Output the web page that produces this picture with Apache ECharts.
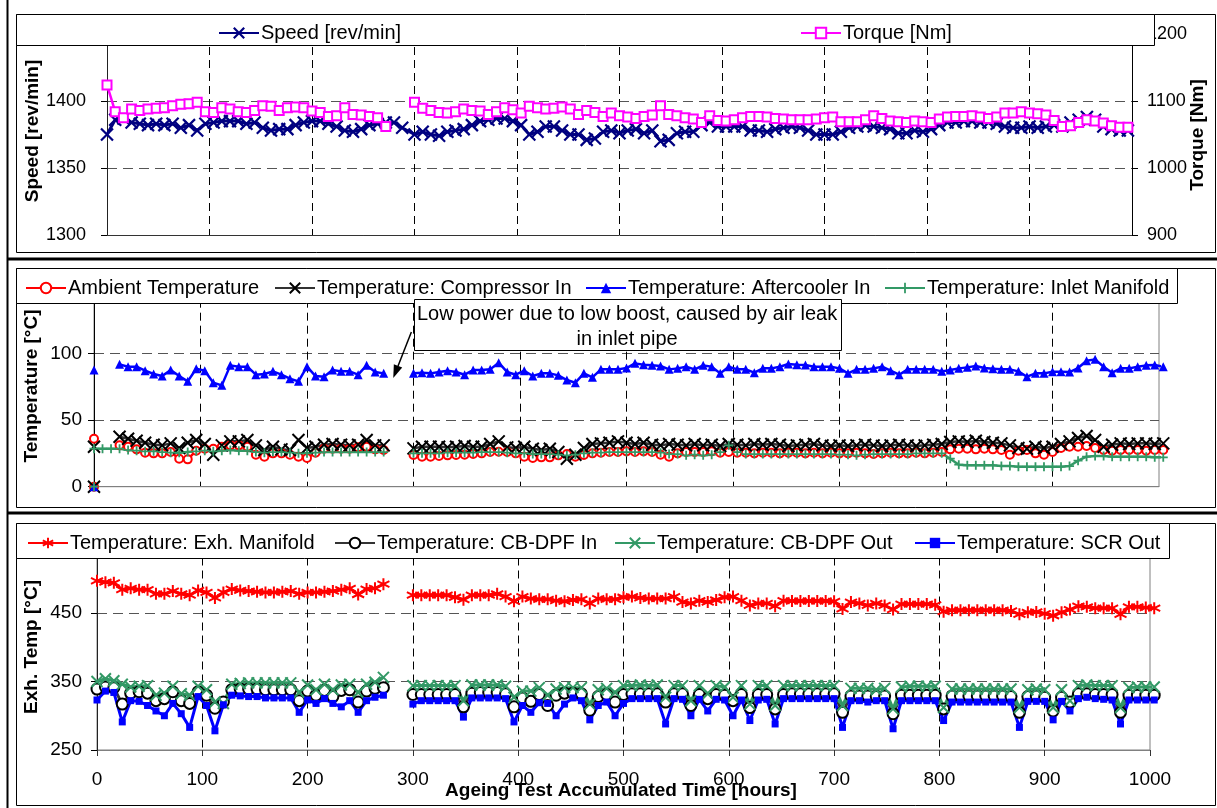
<!DOCTYPE html>
<html>
<head>
<meta charset="utf-8">
<title>Ageing test – engine operating data</title>
<script src="https://cdn.jsdelivr.net/npm/echarts/dist/echarts.min.js"></script>
<style>
  html, body { margin: 0; padding: 0; background: #ffffff; }
  #chart { width: 1217px; height: 808px; }
</style>
</head>
<body>
<div id="chart"></div>
<script>
// ---------------------------------------------------------------------------
// Logged test hours (shared by every series; rows of ~100 h)
// ---------------------------------------------------------------------------
const hours = [
  0, 8, 16, 24, 32, 40, 48, 56, 64, 72, 80, 88, 96,
  104, 112, 120, 128, 136, 144, 152, 160, 168, 176, 184, 192, 200,
  208, 216, 224, 232, 240, 248, 256, 264, 272,
  280, 288,
  300, 308, 316, 324, 332, 340, 348, 356, 364, 372, 380, 388, 396,
  404, 412, 420, 428, 436, 444, 452, 460, 468, 476, 484, 492, 500,
  508, 516, 524, 532, 540, 548, 556, 564, 572, 580, 588, 596,
  604, 612, 620, 628, 636, 644, 652, 660, 668, 676, 684, 692, 700,
  708, 716, 724, 732, 740, 748, 756, 764, 772, 780, 788, 796,
  804, 812, 820, 828, 836, 844, 852, 860, 868, 876, 884, 892, 900,
  908, 916, 924, 932, 940, 948, 956, 964, 972, 980, 988, 996, 1004
];

// Engine speed [rev/min]
const speed = [
  1375, 1386, 1387, 1384, 1383, 1382, 1383, 1382, 1383, 1380, 1382, 1378, 1383,
  1384, 1385, 1385, 1385, 1383, 1384, 1380, 1378, 1379, 1379, 1382, 1384, 1385,
  1385, 1383, 1381, 1378, 1377, 1379, 1382, 1383, 1384,
  1384, 1380,
  1375, 1377, 1375, 1374, 1377, 1378, 1379, 1382, 1385, 1386, 1387, 1387, 1385,
  1382, 1375, 1377, 1381, 1381, 1378, 1375, 1375, 1371, 1372, 1377, 1378, 1376,
  1378, 1379, 1376, 1378, 1370, 1371, 1376, 1377, 1377, 1382, 1384, 1381,
  1381, 1381, 1381, 1378, 1378, 1377, 1379, 1380, 1381, 1380, 1378, 1375, 1375,
  1375, 1377, 1380, 1381, 1382, 1381, 1380, 1379, 1376, 1376, 1378, 1377,
  1379, 1382, 1384, 1384, 1385, 1385, 1384, 1384, 1383, 1381, 1380, 1380, 1381,
  1380, 1381, 1382, 1381, 1384, 1386, 1388, 1386, 1381, 1379, 1378, 1378, null
];

// Engine torque [Nm]
const torque = [
  1124, 1084, 1075, 1088, 1086, 1088, 1089, 1090, 1093, 1095, 1096, 1098, 1084,
  1083, 1090, 1088, 1084, 1083, 1086, 1093, 1092, 1086, 1090, 1091, 1090, 1085,
  1083, 1077, 1078, 1090, 1080, 1079, 1077, 1075, 1062,
  null, null,
  1098, 1089, 1086, 1083, 1082, 1084, 1088, 1086, 1085, 1080, 1084, 1090, 1087,
  1082, 1092, 1090, 1088, 1089, 1091, 1088, 1080, 1086, 1083, 1077, 1082, 1078,
  1076, 1074, 1077, 1079, 1093, 1080, 1078, 1075, 1073, 1068, 1078, 1071,
  1070, 1072, 1075, 1077, 1077, 1076, 1074, 1073, 1072, 1072, 1072, 1073, 1075,
  1076, 1069, 1069, 1069, 1072, 1078, 1074, 1070, 1069, 1068, 1070, 1069,
  1068, 1073, 1076, 1077, 1077, 1078, 1076, 1074, 1076, 1082, 1082, 1084, 1082,
  1081, 1079, 1071, 1062, 1063, 1068, 1072, 1070, 1067, 1063, 1061, 1061, null
];

// Intake side temperatures [°C]; first logger row read zero on every channel
const startupReading = [0, 0, 0, 0];

const ambient = [
  36, null, null, 31, 30, 28, 25.5, 25, 25, 26, 21, 20.5, 27,
  28.5, 28.5, 30, 31, 31, 30, 24, 22.5, 25, 25, 24, 22.5, 21.5,
  25.5, 28.5, 28.5, 28.5, 28.5, 29.5, 30, 28, 27.5,
  null, null,
  23.75, 22.5, 22.5, 23, 23.5, 23.75, 24, 24.5, 25, 26, 26.25, 26, 25,
  22.5, 21.5, 22, 22, 23.5, 24.5, 22.5, 23.75, 25, 25.5, 26, 26, 26.5,
  26, 26.5, 26, 24, 22.5, 25, 26, 26, 26, 26.5, 25.5, 26,
  25.5, 25.5, 25, 25.5, 25.5, 25, 25.5, 25.5, 25, 25.5, 25, 25.5, 25,
  25, 25.5, 25, 24.5, 25, 25.5, 25, 25, 25.5, 25, 25.5, 26,
  28, 28.5, 28.5, 28, 28.5, 28, 27.5, 24, 27, 27.5, 25, 24, 26,
  29, 30, 30, 30.5, 29, 27.5, 27, 27.5, 27.5, 27.5, 27, 27.5, 27.5
];

const compressorIn = [
  30, null, null, 37.5, 36, 34.5, 33, 31.5, 31, 32.5, 29, 33, 35,
  32, 24, 31, 34, 34, 35, 31, 27.5, 30, 28, 27.5, 35, 29,
  30, 31.5, 32, 31.5, 31, 31.5, 35, 31, 31,
  null, null,
  28.75, 30, 30, 30, 29.5, 30, 30.5, 30, 30, 32, 34, 29.5, 29,
  30, 28.5, 27.5, 28.5, 26, 21, 24, 29, 32, 32.5, 33, 34, 33,
  32, 33, 31.5, 31, 32, 31.5, 31, 32, 31, 31.5, 30.5, 32,
  31.5, 31, 32, 31.5, 32, 31.5, 30.5, 31, 31.5, 32, 31, 30.5, 31,
  30.5, 31, 31.5, 31, 30.5, 31, 31.5, 31, 30.5, 31, 31.5, 32,
  33.5, 34, 33.5, 34.5, 33.5, 33, 32.5, 31, 29, 28.5, 30, 29, 30,
  32, 34, 36.5, 38, 35, 30, 31.5, 32.5, 32, 32.5, 32.5, 32, 32.5
];

const aftercoolerIn = [
  87.5, null, null, 91.75, 90, 90, 87, 84.5, 83, 87.5, 83, 79, 88.5,
  87, 78, 76, 91, 90, 90, 84, 84.5, 86.5, 84, 81, 79, 90,
  83, 82.5, 87.5, 86.5, 86.5, 84, 91, 86, 85,
  null, null,
  85, 85.5, 85, 86, 87, 86, 84, 87.5, 87.5, 88, 93, 86, 84,
  87, 83, 85, 85, 83.5, 80, 78, 85, 82, 88, 88, 88, 89,
  92.5, 91.5, 91, 90.5, 88, 88.75, 90, 88, 91, 90, 85, 90,
  88, 88, 85.5, 88.75, 88.75, 90, 92, 91.5, 91.25, 90, 90, 90, 88.75,
  85, 88, 88, 88.75, 90, 87, 84, 88, 88, 88, 88, 86.5,
  87.5, 88.75, 89.5, 90.5, 89, 88.5, 88, 88, 86.5, 82.5, 85, 85, 86.25,
  86.25, 86, 89, 94.5, 95.5, 90, 85.5, 88.75, 88.75, 90, 91, 91.25, 90
];

const inletManifold = [
  28.5, 28.5, 28.5, 28.5, 27.5, 27, 26.5, 26.5, 26, 25.5, 25.5, 26, 26.5,
  27, 26.5, 27, 27.5, 27, 27, 26, 25.5, 26, 26, 25.5, 25, 25,
  25.5, 26, 26, 26, 26, 26, 26, 26, 26,
  null, null,
  25, 25, 25, 25, 25.5, 25.5, 25.5, 25.5, 26, 26, 26, 25.5, 25,
  25, 24.5, 24.5, 24.5, 24, 23.5, 24, 25, 25.5, 25.5, 26, 26, 26,
  26, 26, 26, 25.5, 24.5, 24.5, 23.5, 24, 23.5, 24, 26, 31,
  26, 24.5, 24.5, 24.5, 24.5, 24.5, 24.5, 24.5, 24.5, 24.5, 24.5, 24.5, 24,
  24, 23.5, 24, 24.5, 24.5, 24.5, 24.5, 24.5, 25, 25, 25, 25,
  21, 16.5, 16, 16, 16, 16, 15.5, 15.5, 15, 15, 15, 15, 15,
  15, 15.5, 19.5, 22.5, 23, 23, 22.5, 22.5, 22.5, 22.5, 22.5, 22, 22
];

// Exhaust line temperatures [°C]
const exhManifold = [
  497, 495, 494, 484, 486, 484, 484, 478, 478, 482, 478, 476, 483,
  480, 472, 480, 485, 483, 482, 481, 480, 480, 481, 482, 478, 480,
  480, 481, 482, 484, 486, 477, 485, 486, 492,
  null, null,
  476, 476, 476, 476, 476, 473, 469.5, 476, 476, 476, 478, 474, 467,
  474, 471, 470, 470, 468, 467, 469, 470, 464, 471, 470, 470, 473,
  474, 472, 471, 471, 471, 474, 466, 464, 468, 466, 469, 473,
  474, 468, 461, 464, 464, 460, 468, 467.5, 467.5, 467.5, 467.5, 467.5, 467,
  456, 466, 464, 461, 464, 461, 455, 463, 463, 463, 463, 462,
  452, 454, 454, 454, 454, 454, 454, 454, 453, 448, 451, 451.5, 449,
  446, 451, 455, 460, 459, 457, 457, 457, 448, 459, 459, 458, 457
];

const cbdpfIn = [
  339, 342, 341, 317, 333, 335, 333, 322, 325, 335, 322, 318, 335,
  330, 311, 320, 338, 339, 339, 339, 338, 338, 338, 338, 322, 336,
  330, 337, 328, 337, 338, 320, 336, 340, 341,
  null, null,
  331, 331, 331, 331, 331, 331, 313, 333, 334, 334, 334, 332, 313,
  326, 321, 331, 315, 330, 333, 333, 332, 308, 328, 331, 320, 331,
  332, 332, 332, 332, 320, 332, 332, 315, 331, 325, 331, 330,
  322, 331, 312, 331, 331, 310, 331, 332, 332, 332, 332, 332, 332,
  305, 329, 329, 329, 328, 329, 303, 330, 330, 330, 330, 330,
  310, 329, 329, 329, 329, 329, 329, 329, 328, 305, 328, 329, 327,
  307, 327, 320, 332, 332, 331, 331, 331, 305, 330, 330, 330, 330
];

const cbdpfOut = [
  350, 354, 351, 346, 342, 343, 344, 330, 333, 343, 332, 330, 343,
  338, 320, 318, 346, 347, 348, 348, 348, 348, 348, 348, 334, 345,
  338, 346, 338, 345, 346, 334, 346, 349, 356,
  null, null,
  344, 344, 344, 344, 344, 344, 322, 345, 345, 345, 345, 343, 327,
  336, 336, 341, 330, 339, 341, 341, 341, 317, 338, 340, 334, 344,
  344, 345, 344, 345, 327, 344, 344, 322, 344, 332, 344, 342,
  327, 344, 317, 344, 344, 315, 344, 344, 344, 344, 344, 344, 344,
  315, 340, 340, 340, 338, 340, 310, 342, 343, 343, 343, 343,
  312, 339, 339, 339, 339, 339, 339, 339, 339, 312, 338, 339, 338,
  312, 338, 322, 344, 345, 344, 344, 344, 312, 341, 342, 342, 342
];

const scrOut = [
  323, 336, 334, 291, 322, 321, 315, 307, 300, 318, 303, 283, 328,
  315, 278, 316, 330, 329, 328, 328, 326, 326, 326, 326, 305, 323,
  318, 325, 318, 313, 322, 305, 322, 327, 330,
  null, null,
  317, 322, 322, 322, 322, 322, 298, 326, 326, 326, 326, 325, 291,
  315, 305, 319, 318, 300, 317, 326, 322, 294, 315, 320, 300, 318,
  325, 325, 325, 325, 288, 325, 324, 300, 324, 307, 324, 323,
  300, 323, 293, 323, 324, 288, 325, 325, 325, 325, 325, 325, 325,
  283, 322, 322, 320, 322, 322, 281, 322, 322, 322, 322, 322,
  293, 320, 320, 320, 320, 320, 320, 320, 320, 283, 321, 321, 321,
  294, 321, 307, 325, 327, 325, 324, 323, 288, 323, 323, 323, 323
];

// Axis tick settings
const hourTicks = { min: 0, max: 1000, step: 100 };
const speedTicks = { min: 1300, max: 1450, step: 50 };
const torqueTicks = { min: 900, max: 1200, step: 100 };
const intakeTicks = { min: 0, max: 150, step: 50 };
const exhaustTicks = { min: 250, max: 550, step: 100 };

const annotationText = 'Low power due to low boost, caused by air leak\nin inlet pipe';

// ---------------------------------------------------------------------------
const FONT = "'Liberation Sans', Arial, Helvetica, sans-serif";
const SYM_CROSS = 'path://M0,0L10,10M10,0L0,10';
const SYM_PLUS = 'path://M5,0L5,10M0,5L10,5';
const SYM_STAR = 'path://M5,0L5,10M0.67,2.5L9.33,7.5M0.67,7.5L9.33,2.5';
const plain = (v) => String(v);

function toPairs(values) {
  return hours.map((h, i) => [h, values[i] == null ? '-' : values[i]]);
}
function withStartup(zero, values) {
  return [[0, zero], [0, '-']].concat(toPairs(values));
}

function lineSeries(c) {
  return {
    type: 'line',
    name: c.name,
    xAxisIndex: c.grid,
    yAxisIndex: c.yAxis,
    data: c.data,
    clip: false,
    showSymbol: true,
    symbol: c.symbol,
    symbolSize: c.size,
    connectNulls: false,
    lineStyle: { color: c.line, width: c.width },
    itemStyle: { color: c.marker, borderColor: c.marker, borderWidth: c.bw },
    emphasis: { disabled: true },
    animation: false
  };
}

function xAxisCfg(grid, showLabels, lineColor) {
  return {
    type: 'value', gridIndex: grid,
    min: hourTicks.min, max: hourTicks.max, interval: hourTicks.step,
    axisLine: { show: true, onZero: false, lineStyle: { color: lineColor, width: 1 } },
    axisTick: { show: showLabels, length: 6, inside: false, lineStyle: { color: '#333' } },
    axisLabel: { show: showLabels, fontSize: 19, fontFamily: FONT, color: '#000', margin: 20, formatter: plain },
    splitLine: { show: true, showMinLine: false, showMaxLine: false,
                 lineStyle: { color: '#000', width: 1, type: [8, 5] } }
  };
}

function yAxisCfg(grid, ticks, opts) {
  return {
    type: 'value', gridIndex: grid,
    min: ticks.min, max: ticks.max, interval: ticks.step,
    position: opts.position || 'left',
    axisLine: { show: true, onZero: false, lineStyle: { color: opts.lineColor || '#000', width: 1 } },
    axisTick: { show: true, length: 6, inside: false, lineStyle: { color: '#000' } },
    axisLabel: { fontSize: opts.fontSize || 19, fontFamily: FONT, color: '#000', margin: opts.margin, formatter: plain },
    splitLine: { show: opts.split !== false, showMinLine: false, showMaxLine: false,
                 lineStyle: { color: '#555', width: 1, type: [10, 6] } }
  };
}

const series = [
  lineSeries({ name: 'Speed [rev/min]', grid: 0, yAxis: 0, data: toPairs(speed),
    symbol: SYM_CROSS, size: 12, line: '#000080', width: 3, marker: '#000080', bw: 2.2 }),
  lineSeries({ name: 'Torque [Nm]', grid: 0, yAxis: 1, data: toPairs(torque),
    symbol: 'emptyRect', size: 9, line: '#FF00FF', width: 2.5, marker: '#FF00FF', bw: 1.5 }),

  lineSeries({ name: 'Ambient Temperature', grid: 1, yAxis: 2, data: withStartup(startupReading[0], ambient),
    symbol: 'emptyCircle', size: 8, line: '#FF0000', width: 2.5, marker: '#FF0000', bw: 1.5 }),
  lineSeries({ name: 'Temperature: Compressor In', grid: 1, yAxis: 2, data: withStartup(startupReading[1], compressorIn),
    symbol: SYM_CROSS, size: 12, line: '#333333', width: 2.5, marker: '#000000', bw: 2 }),
  lineSeries({ name: 'Temperature: Aftercooler In', grid: 1, yAxis: 2, data: withStartup(startupReading[2], aftercoolerIn),
    symbol: 'triangle', size: 9, line: '#0000FF', width: 2.5, marker: '#0000FF', bw: 0 }),
  lineSeries({ name: 'Temperature: Inlet Manifold', grid: 1, yAxis: 2, data: withStartup(startupReading[3], inletManifold),
    symbol: SYM_PLUS, size: 9, line: '#339966', width: 2.5, marker: '#339966', bw: 1.8 }),

  lineSeries({ name: 'Temperature: Exh. Manifold', grid: 2, yAxis: 3, data: toPairs(exhManifold),
    symbol: SYM_STAR, size: 12, line: '#FF0000', width: 3, marker: '#FF0000', bw: 2 }),
  lineSeries({ name: 'Temperature: CB-DPF In', grid: 2, yAxis: 3, data: toPairs(cbdpfIn),
    symbol: 'emptyCircle', size: 11, line: '#333333', width: 3, marker: '#000000', bw: 1.5 }),
  lineSeries({ name: 'Temperature: CB-DPF Out', grid: 2, yAxis: 3, data: toPairs(cbdpfOut),
    symbol: SYM_CROSS, size: 11, line: '#339966', width: 3, marker: '#339966', bw: 2 }),
  lineSeries({ name: 'Temperature: SCR Out', grid: 2, yAxis: 3, data: toPairs(scrOut),
    symbol: 'rect', size: 7, line: '#0000FF', width: 3, marker: '#0000FF', bw: 0 })
];

function legendItem(name, left, top) {
  return {
    data: [name], left: left, top: top, orient: 'horizontal',
    padding: 0, itemGap: 0, itemWidth: 40, itemHeight: 13,
    selectedMode: false, z: 5,
    itemStyle: { borderWidth: 'inherit' },
    textStyle: { fontSize: 20, fontFamily: FONT, color: '#000', padding: [0, 0, 0, -3] }
  };
}

const option = {
  animation: false,
  backgroundColor: '#ffffff',
  grid: [
    { left: 107, top: 34, width: 1025, height: 201, show: false },
    { left: 94, top: 286.7, width: 1065, height: 200, show: true, borderColor: '#808080', borderWidth: 1 },
    { left: 97, top: 544.5, width: 1053, height: 205.5, show: true, borderColor: '#808080', borderWidth: 1 }
  ],
  xAxis: [
    xAxisCfg(0, false, '#333333'),
    xAxisCfg(1, false, '#808080'),
    xAxisCfg(2, true, '#808080')
  ],
  yAxis: [
    yAxisCfg(0, speedTicks, { lineColor: '#222', margin: 21, fontSize: 18 }),
    yAxisCfg(0, torqueTicks, { position: 'right', lineColor: '#000', margin: 15, fontSize: 18, split: false }),
    yAxisCfg(1, intakeTicks, { lineColor: '#000', margin: 12 }),
    yAxisCfg(2, exhaustTicks, { lineColor: '#222', margin: 15 })
  ],
  legend: [
    legendItem('Speed [rev/min]', 218, 23),
    legendItem('Torque [Nm]', 800, 23),
    legendItem('Ambient Temperature', 25, 278),
    legendItem('Temperature: Compressor In', 274, 278),
    legendItem('Temperature: Aftercooler In', 585, 278),
    legendItem('Temperature: Inlet Manifold', 884, 278),
    legendItem('Temperature: Exh. Manifold', 27, 533),
    legendItem('Temperature: CB-DPF In', 334, 533),
    legendItem('Temperature: CB-DPF Out', 614, 533),
    legendItem('Temperature: SCR Out', 914, 533)
  ],
  series: series
};

const chart = echarts.init(document.getElementById('chart'), null, { renderer: 'canvas' });
chart.setOption(option);

// ---------------------------------------------------------------------------
// Frames, legend boxes, axis titles and the boost-leak annotation
// ---------------------------------------------------------------------------
function boxRect(x0, y0, x1, y1, z, fill) {
  return { type: 'rect', z: z, silent: true,
    shape: { x: x0, y: y0, width: x1 - x0, height: y1 - y0 },
    style: { fill: fill || 'none', stroke: '#000', lineWidth: 1 } };
}
function hLine(y, x0, x1, w) {
  return { type: 'line', z: 10, silent: true, shape: { x1: x0, y1: y, x2: x1, y2: y },
    style: { stroke: '#000', lineWidth: w } };
}
function vTitle(text, x, y) {
  return { type: 'text', z: 8, silent: true, x: x, y: y, rotation: Math.PI / 2,
    style: { text: text, fill: '#000', fontSize: 19, fontWeight: 'bold', fontFamily: FONT,
             align: 'center', verticalAlign: 'middle' } };
}

const px = (t, v) => chart.convertToPixel({ gridIndex: 1 }, [t, v]);
const boxA = px(300, 141), boxB = px(701, 103);
const arrowFrom = px(298, 116), arrowTo = px(281, 81.5);
const textAt = px(500.5, 119.8);
const dx = arrowTo[0] - arrowFrom[0], dy = arrowTo[1] - arrowFrom[1];
const len = Math.sqrt(dx * dx + dy * dy), ux = dx / len, uy = dy / len;
const headLen = 13, headHalf = 4.5;
const base = [arrowTo[0] - ux * headLen, arrowTo[1] - uy * headLen];

const graphics = [
  // chart-area outlines
  boxRect(16.5, 14.5, 1215.5, 252.5, 1),
  boxRect(16.5, 268.5, 1215.5, 507.5, 1),
  boxRect(16.5, 523.5, 1215.5, 805.5, 1),
  // legend boxes (opaque, cover top tick labels)
  boxRect(16.5, 14.5, 1154.5, 45.5, 3, '#ffffff'),
  boxRect(16.5, 268.5, 1177.5, 303.5, 3, '#ffffff'),
  boxRect(16.5, 523.5, 1169.5, 558.5, 3, '#ffffff'),
  // outer figure frame
  { type: 'line', z: 10, silent: true, shape: { x1: 7.5, y1: 0, x2: 7.5, y2: 808 },
    style: { stroke: '#000', lineWidth: 2 } },
  hLine(259, 7, 1217, 3),
  hLine(513, 7, 1217, 3),
  // axis titles
  vTitle('Speed [rev/min]', 33, 131),
  vTitle('Torque [Nm]', 1198, 135),
  vTitle('Temperature [°C]', 32, 386),
  vTitle('Exh. Temp [°C]', 32, 647),
  { type: 'text', z: 8, silent: true, x: 621, y: 791,
    style: { text: 'Ageing Test Accumulated Time [hours]', fill: '#000', fontSize: 19,
             fontWeight: 'bold', fontFamily: FONT, align: 'center', verticalAlign: 'middle' } },
  // annotation
  { type: 'rect', z: 6, silent: true,
    shape: { x: Math.round(boxA[0]) + 0.5, y: Math.round(boxA[1]) + 0.5,
             width: Math.round(boxB[0] - boxA[0]), height: Math.round(boxB[1] - boxA[1]) },
    style: { fill: '#ffffff', stroke: '#000', lineWidth: 1 } },
  { type: 'text', z: 7, silent: true, x: textAt[0], y: textAt[1],
    style: { text: annotationText, fill: '#000', fontSize: 20, fontFamily: FONT,
             align: 'center', verticalAlign: 'middle', lineHeight: 25.5 } },
  { type: 'line', z: 7, silent: true,
    shape: { x1: arrowFrom[0], y1: arrowFrom[1], x2: base[0], y2: base[1] },
    style: { stroke: '#000', lineWidth: 1.5 } },
  { type: 'polygon', z: 7, silent: true,
    shape: { points: [
      arrowTo,
      [base[0] - uy * headHalf, base[1] + ux * headHalf],
      [base[0] + uy * headHalf, base[1] - ux * headHalf]
    ] },
    style: { fill: '#000' } }
];

chart.setOption({ graphic: { elements: graphics } });
</script>
</body>
</html>
